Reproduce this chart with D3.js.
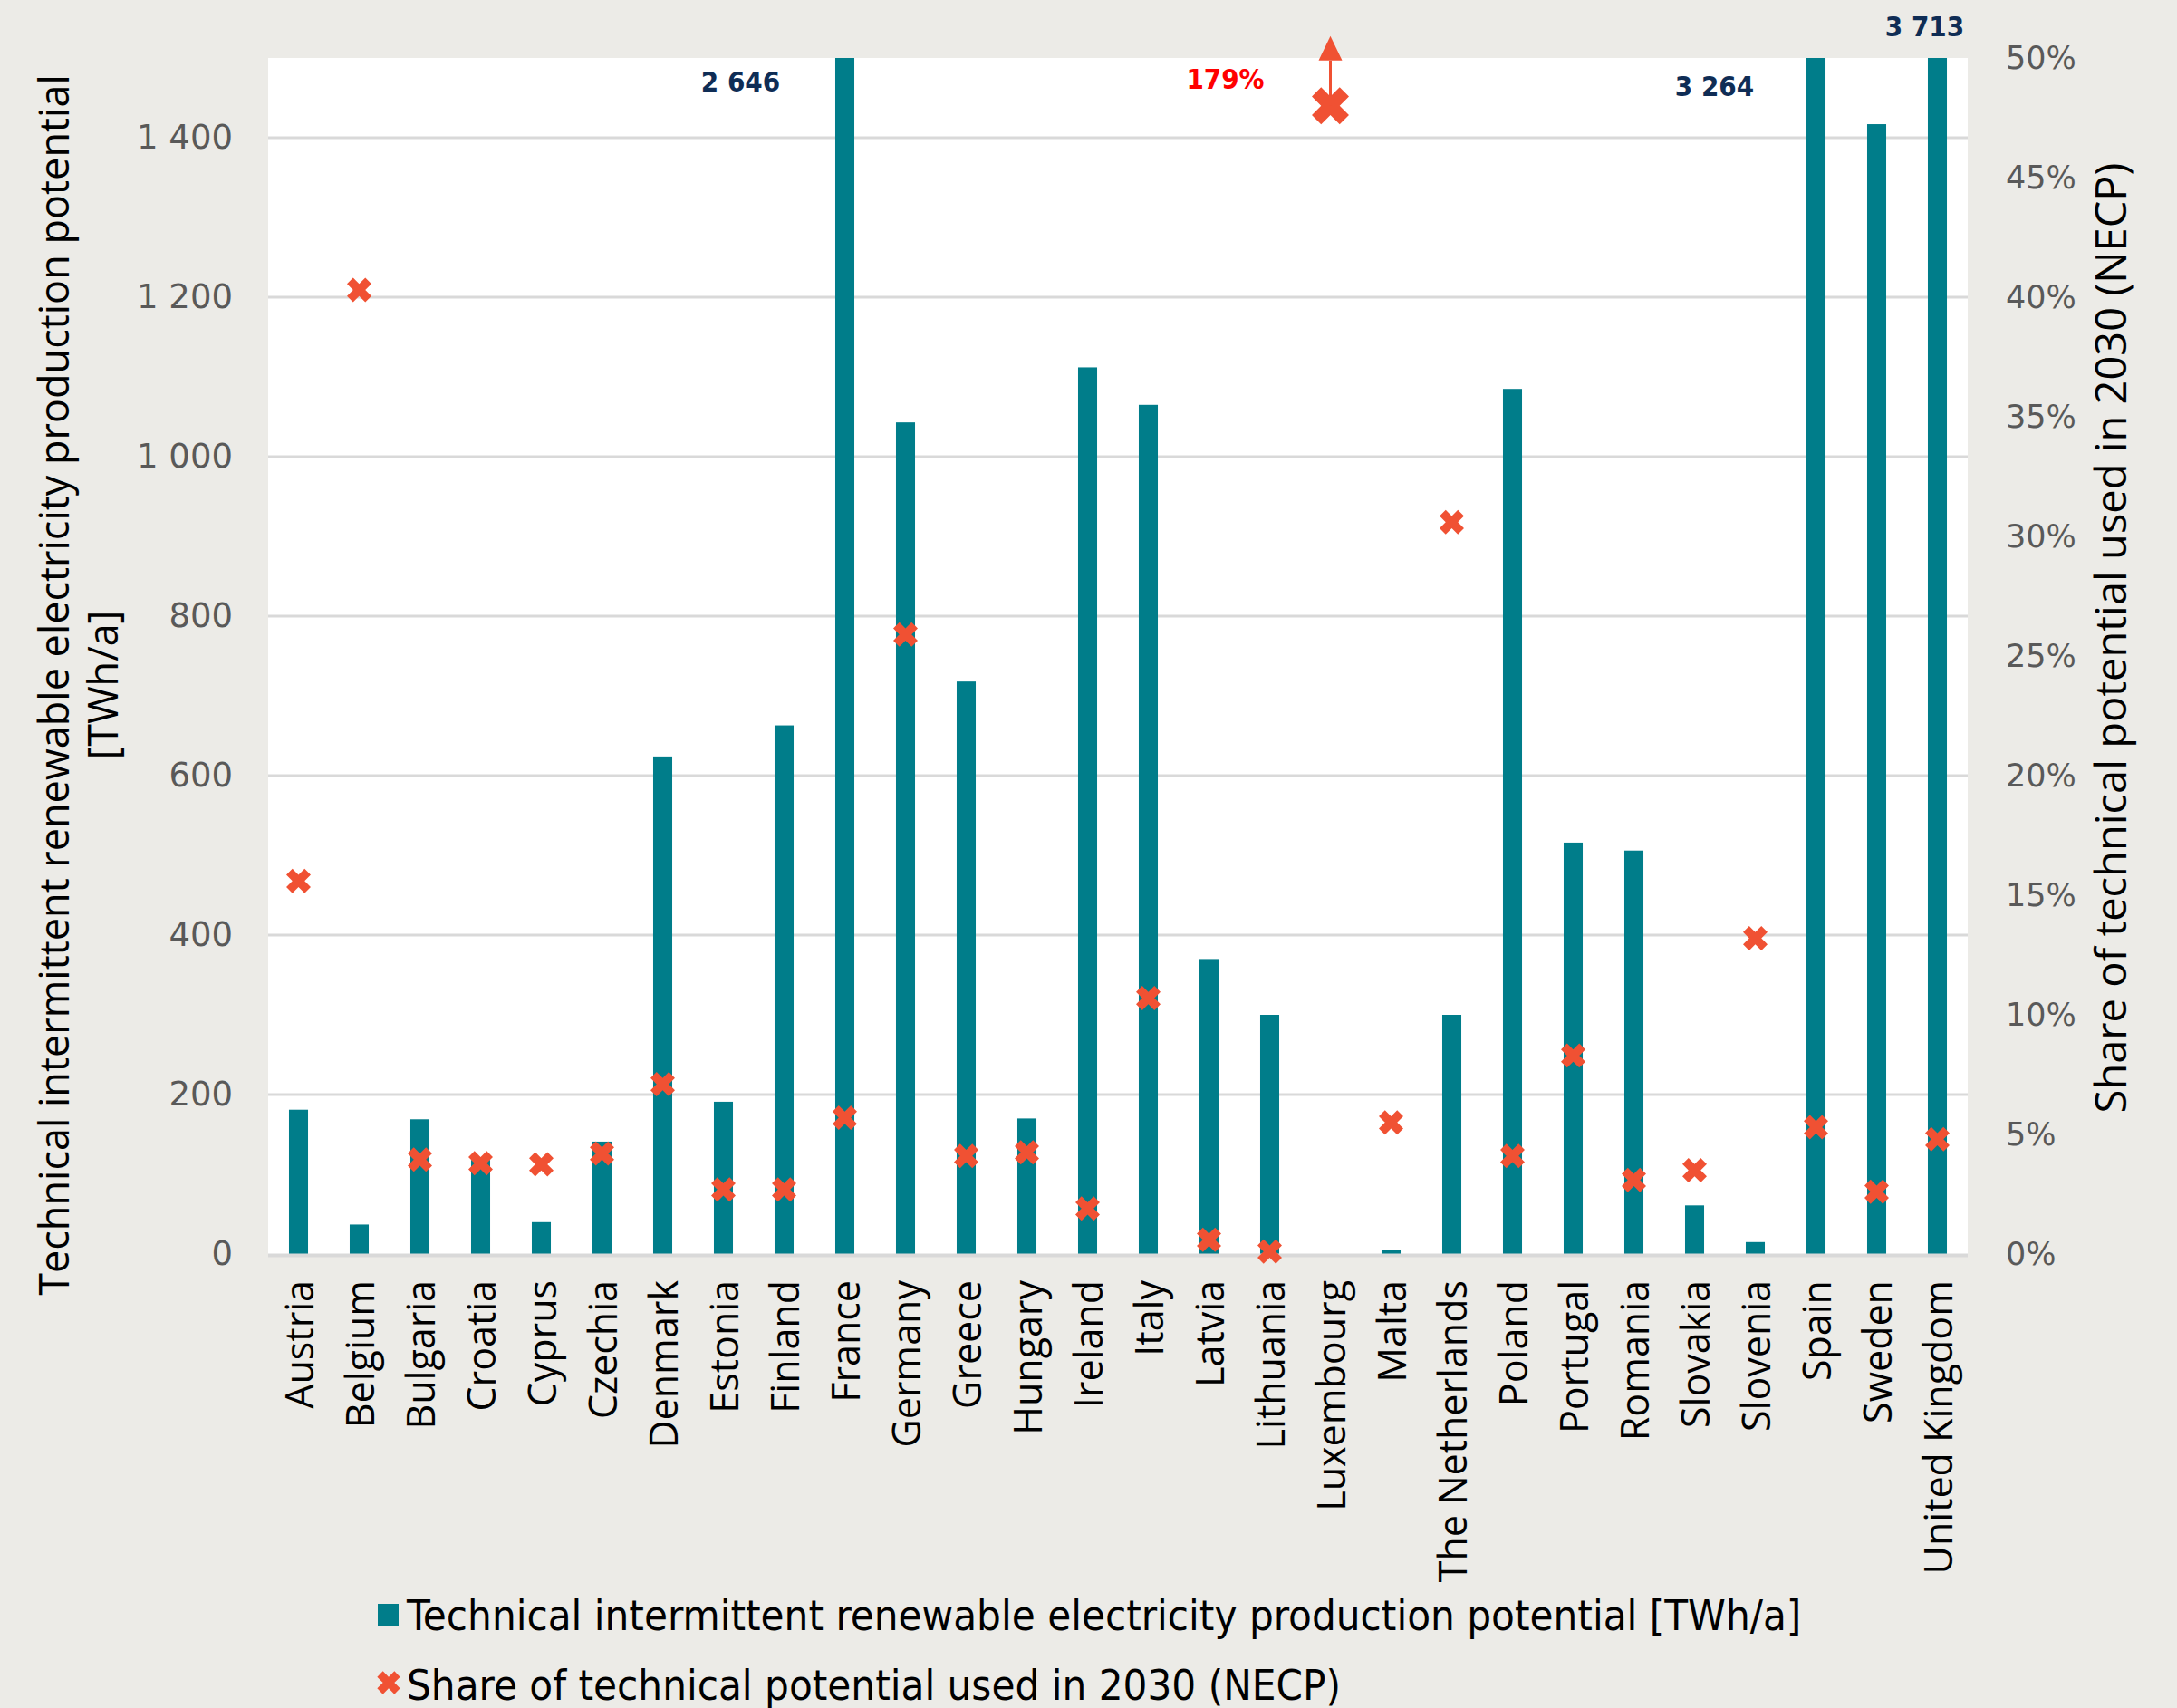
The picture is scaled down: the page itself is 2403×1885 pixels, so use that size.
<!DOCTYPE html>
<html>
<head>
<meta charset="utf-8">
<script src="https://cdn.jsdelivr.net/npm/d3@7"></script>
<style>
  html, body { margin: 0; padding: 0; background: #ecebe7; }
  svg { display: block; }
</style>
</head>
<body>
<svg id="chart" width="2403" height="1885"></svg>
<script>
// Countries on the category axis
const categories = ["Austria", "Belgium", "Bulgaria", "Croatia", "Cyprus", "Czechia", "Denmark",
  "Estonia", "Finland", "France", "Germany", "Greece", "Hungary", "Ireland", "Italy", "Latvia",
  "Lithuania", "Luxembourg", "Malta", "The Netherlands", "Poland", "Portugal", "Romania",
  "Slovakia", "Slovenia", "Spain", "Sweden", "United Kingdom"];

// Technical intermittent renewable electricity production potential [TWh/a]
const potential = [181, 37, 169, 118, 40, 141, 624, 191, 663, 2646, 1043, 718, 170, 1112, 1065,
  370, 300, 0, 5, 300, 1085, 516, 506, 61, 15, 3264, 1417, 3713];

// Share of technical potential used in 2030 (NECP), in percent
const share = [15.6, 40.3, 3.95, 3.8, 3.75, 4.2, 7.1, 2.7, 2.7, 5.7, 25.9, 4.1, 4.25, 1.9, 10.7,
  0.6, 0.1, 179, 5.5, 30.6, 4.1, 8.3, 3.1, 3.5, 13.2, 5.3, 2.6, 4.8];

const leftTicks = [0, 200, 400, 600, 800, 1000, 1200, 1400];
const rightTicks = [0, 5, 10, 15, 20, 25, 30, 35, 40, 45, 50];

const legendLabels = [
  "Technical intermittent renewable electricity production potential [TWh/a]",
  "Share of technical potential used in 2030 (NECP)"
];

const TEAL = "#007d8a";
const CROSS = "#f05133";
const TICK_GRAY = "#595959";
const GRID = "#d9d9d9";

const svg = d3.select("#chart");
const plot = { left: 296, right: 2172, top: 64, bottom: 1384 };

const x = d3.scaleBand().domain(categories)
  .range([plot.left, plot.right]).paddingInner(0.686).paddingOuter(0.343);
const y = d3.scaleLinear().domain([0, 1500]).range([plot.bottom, plot.top]);
const y2 = d3.scaleLinear().domain([0, 50]).range([plot.bottom, plot.top]);
const cx = d => x(d) + x.bandwidth() / 2;

// plot area
svg.append("rect").attr("x", plot.left).attr("y", plot.top)
  .attr("width", plot.right - plot.left).attr("height", plot.bottom - plot.top)
  .attr("fill", "#ffffff");

svg.append("clipPath").attr("id", "plotClip").append("rect")
  .attr("x", plot.left).attr("y", plot.top)
  .attr("width", plot.right - plot.left).attr("height", plot.bottom - plot.top);

// horizontal gridlines
svg.append("g").selectAll("line").data(leftTicks.filter(t => t > 0)).join("line")
  .attr("x1", plot.left).attr("x2", plot.right)
  .attr("y1", d => y(d)).attr("y2", d => y(d))
  .attr("stroke", GRID).attr("stroke-width", 3);

// left axis labels (space as thousands separator)
const fmtNum = v => d3.format(",")(v).replace(/,/g, " ");
const leftAxis = d3.axisLeft(y).tickValues(leftTicks).tickSize(0).tickPadding(39)
  .tickFormat(fmtNum);
const gl = svg.append("g").attr("transform", `translate(${plot.left},0)`).call(leftAxis);
gl.select(".domain").remove();
gl.selectAll("text").attr("font-family", "DejaVu Sans, sans-serif").attr("font-size", 37)
  .attr("fill", TICK_GRAY);

// right axis labels
const rightAxis = d3.axisRight(y2).tickValues(rightTicks).tickSize(0).tickPadding(42)
  .tickFormat(d => d + "%");
const gr = svg.append("g").attr("transform", `translate(${plot.right},0)`).call(rightAxis);
gr.select(".domain").remove();
gr.selectAll("text").attr("font-family", "DejaVu Sans, sans-serif").attr("font-size", 35)
  .attr("fill", TICK_GRAY);

// bars
svg.append("g").attr("clip-path", "url(#plotClip)")
  .selectAll("rect").data(categories).join("rect")
  .attr("x", d => x(d))
  .attr("width", x.bandwidth())
  .attr("y", (d, i) => y(potential[i]))
  .attr("height", (d, i) => y(0) - y(potential[i]))
  .attr("fill", TEAL);

// zero line
svg.append("line").attr("x1", plot.left).attr("x2", plot.right)
  .attr("y1", y(0) + 1.5).attr("y2", y(0) + 1.5)
  .attr("stroke", GRID).attr("stroke-width", 4);

// share markers; values beyond the axis are pinned just under the top and flagged with an arrow
const SHARE_CAP = 48;
const crossPath = size => d3.symbol(d3.symbolCross, size)();
const markers = svg.append("g");
share.forEach((v, i) => {
  const over = v > 50;
  const shown = Math.min(v, SHARE_CAP);
  markers.append("path")
    .attr("d", crossPath(over ? 1050 : 455))
    .attr("transform", `translate(${cx(categories[i])},${y2(shown)}) rotate(45)`)
    .attr("fill", CROSS);
  if (over) {
    const px = cx(categories[i]), py = y2(shown);
    markers.append("line").attr("x1", px).attr("x2", px)
      .attr("y1", py).attr("y2", py - 50)
      .attr("stroke", CROSS).attr("stroke-width", 3);
    markers.append("path")
      .attr("d", `M${px},${py - 77} L${px - 13},${py - 50} L${px + 13},${py - 50} Z`)
      .attr("fill", CROSS);
    svg.append("text")
      .attr("x", px - 116).attr("y", y(1500) + 23)
      .attr("text-anchor", "middle").attr("dominant-baseline", "central")
      .attr("font-family", "Liberation Sans Narrow, DejaVu Sans Condensed, sans-serif")
      .attr("font-weight", "bold").attr("font-size", 31)
      .attr("fill", "#ff0000")
      .text(d3.format("d")(v) + "%");
  }
});

// values of bars that run past the top of the axis
const overflow = categories.map((c, i) => ({ c, v: potential[i] })).filter(d => d.v > 1500);
const valueLabelPos = { "France": [-115, 26], "Spain": [-112, 31], "United Kingdom": [-14, -35] };
svg.append("g").selectAll("text").data(overflow).join("text")
  .attr("x", d => cx(d.c) + valueLabelPos[d.c][0])
  .attr("y", d => plot.top + valueLabelPos[d.c][1])
  .attr("text-anchor", "middle").attr("dominant-baseline", "central")
  .attr("font-family", "Liberation Sans Narrow, DejaVu Sans Condensed, sans-serif")
  .attr("font-weight", "bold").attr("font-size", 31)
  .attr("fill", "#0f2d55")
  .text(d => fmtNum(d.v));

// category labels
svg.append("g").selectAll("text").data(categories).join("text")
  .attr("transform", d => `translate(${cx(d)},${plot.bottom + 29}) rotate(-90)`)
  .attr("text-anchor", "end").attr("dominant-baseline", "central")
  .attr("font-family", "Open Sans, sans-serif").attr("font-size", 43)
  .attr("fill", "#000")
  .text(d => d);

// axis titles
const leftTitle = svg.append("text")
  .attr("transform", "translate(58,756) rotate(-90)")
  .attr("text-anchor", "middle").attr("dominant-baseline", "central")
  .attr("font-family", "Open Sans, sans-serif").attr("font-size", 45).attr("fill", "#000");
leftTitle.append("tspan").attr("x", 0).attr("dy", 0)
  .text("Technical intermittent renewable electricity production potential");
leftTitle.append("tspan").attr("x", 0).attr("dy", 54).text("[TWh/a]");

svg.append("text")
  .attr("transform", "translate(2329,704) rotate(-90)")
  .attr("text-anchor", "middle").attr("dominant-baseline", "central")
  .attr("font-family", "Open Sans, sans-serif").attr("font-size", 47).attr("fill", "#000")
  .text("Share of technical potential used in 2030 (NECP)");

// legend
const legend = svg.append("g").attr("font-family", "Liberation Sans Narrow, DejaVu Sans Condensed, sans-serif")
  .attr("font-size", 47).attr("fill", "#000");
legend.append("rect").attr("x", 417).attr("y", 1770).attr("width", 23).attr("height", 25).attr("fill", TEAL);
legend.append("text").attr("x", 449).attr("y", 1782).attr("dominant-baseline", "central").text(legendLabels[0]);
legend.append("path").attr("d", crossPath(400))
  .attr("transform", "translate(429,1857) rotate(45)").attr("fill", CROSS);
legend.append("text").attr("x", 449).attr("y", 1859).attr("dominant-baseline", "central").text(legendLabels[1]);
</script>
</body>
</html>
